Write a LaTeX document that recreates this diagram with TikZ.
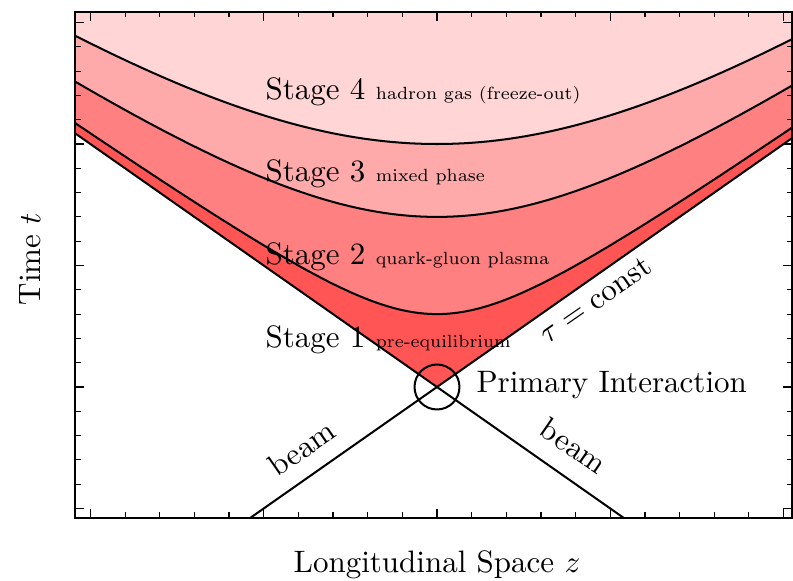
\documentclass[tikz,border=0pt]{standalone}
\definecolor{sone}{HTML}{FF5555}
\definecolor{stwo}{HTML}{FF8080}
\definecolor{sthree}{HTML}{FFAAAA}
\definecolor{sfour}{HTML}{FFD5D5}
\font\smalltxtfont=cmr7 at 5.7pt
\newcommand{\smalltxt}{\smalltxtfont}
\tikzset{
  curve/.style={black, line width=0.65pt},
  frameline/.style={black, line width=0.5pt},
  tickline/.style={black, line width=0.35pt},
  big/.style={font=\fontsize{10}{12}\selectfont, inner sep=0pt},
}
\begin{document}
\begin{tikzpicture}[x=0.3226pt,y=-0.3226pt]
\useasboundingbox (0,0) rectangle (793,581);
\begin{scope}
  \clip (75,12) rectangle (792,518);
  \begin{scope}[shift={(437,387)},x=55.91pt,y=39.196pt]
    \fill[sone] (-2.3,2.3) -- (0,0) -- (2.3,2.3) -- (2.3,3.3) -- (-2.3,3.3) -- cycle;
    \fill[stwo] plot[domain=-2.3:2.3,samples=121,smooth] (\x,{sqrt(0.36+\x*\x)}) -- (2.3,3.3) -- (-2.3,3.3) -- cycle;
    \fill[sthree] plot[domain=-2.3:2.3,samples=121,smooth] (\x,{sqrt(1.96+\x*\x)}) -- (2.3,3.3) -- (-2.3,3.3) -- cycle;
    \fill[sfour] plot[domain=-2.3:2.3,samples=121,smooth] (\x,{sqrt(4+\x*\x)}) -- (2.3,3.3) -- (-2.3,3.3) -- cycle;
    \draw[curve] plot[domain=-2.3:2.3,samples=121,smooth] (\x,{sqrt(0.36+\x*\x)});
    \draw[curve] plot[domain=-2.3:2.3,samples=121,smooth] (\x,{sqrt(1.96+\x*\x)});
    \draw[curve] plot[domain=-2.3:2.3,samples=121,smooth] (\x,{sqrt(4+\x*\x)});
    \coordinate (bl) at (-1.2,-1.2);
    \coordinate (tr) at (2.3,2.3);
    \coordinate (br) at (1.2,-1.2);
    \coordinate (tl) at (-2.3,2.3);
    \draw[curve] (bl) -- (tr);
    \draw[curve] (br) -- (tl);
  \end{scope}
\end{scope}
% frame
\draw[frameline] (75,12) rectangle (792,518);
% z ticks
\foreach \i in {-10,...,10} {
  \draw[tickline] ({437+34.66*\i},518) -- ++(0,-5.5);
  \draw[tickline] ({437+34.66*\i},12) -- ++(0,5.5);
}
\foreach \i in {-2,...,2} {
  \draw[tickline] ({437+173.3*\i},518) -- ++(0,-9);
  \draw[tickline] ({437+173.3*\i},12) -- ++(0,9);
}
% t ticks
\foreach \j in {-5,...,15} {
  \draw[tickline] (75,{387-24.3*\j}) -- ++(5.5,0);
  \draw[tickline] (792,{387-24.3*\j}) -- ++(-5.5,0);
}
\foreach \j in {-1,...,3} {
  \draw[tickline] (75,{387-121.5*\j}) -- ++(9,0);
  \draw[tickline] (792,{387-121.5*\j}) -- ++(-9,0);
}
% interaction point
\node[draw, circle, line width=0.65pt, minimum size=14.5pt, inner sep=0pt] (pi) at (437,387) {};
% labels
\node[big, anchor=base west] (s4) at (265,100) {Stage 4 {\smalltxt hadron gas (freeze-out)}};
\node[big, anchor=base west] (s3) at (265,182) {Stage 3 {\smalltxt mixed phase}};
\node[big, anchor=base west] (s2) at (265,265) {Stage 2 {\smalltxt quark-gluon plasma}};
\node[big, anchor=base west] (s1) at (265,348) {Stage 1 {\smalltxt pre-equilibrium}};
\node[big, anchor=base west] (pil) at (476,393) {Primary Interaction};
\node[big, rotate=34.7] (beamL) at (302,448) {beam};
\node[big, rotate=-34.7] (beamR) at (574,446) {beam};
\node[big, rotate=34.7] (tau) at (595,300) {$\tau = \mathrm{const}$};
\node[big, rotate=90] (tlab) at (30,259) {Time $t$};
\node[big] (zlab) at (437,565) {Longitudinal Space $z$};
\end{tikzpicture}
\end{document}
